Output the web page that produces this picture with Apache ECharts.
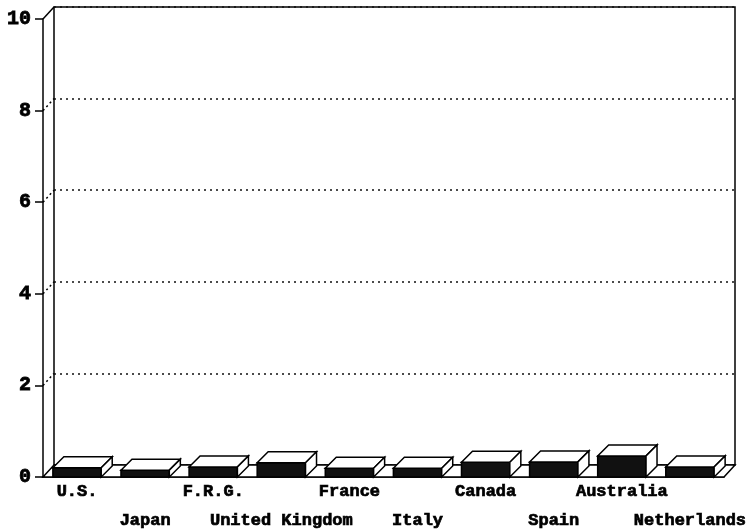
<!DOCTYPE html>
<html>
<head>
<meta charset="utf-8">
<script src="https://cdn.jsdelivr.net/npm/echarts@6/dist/echarts.min.js"></script>
<style>
  html, body { margin: 0; padding: 0; background: #fff; }
  #main { width: 755px; height: 531px; }
</style>
</head>
<body>
<div id="main"></div>
<script>
// 数据
var countries = ['U.S.', 'Japan', 'F.R.G.', 'United Kingdom', 'France', 'Italy', 'Canada', 'Spain', 'Australia', 'Netherlands'];
var values = [0.2, 0.15, 0.22, 0.31, 0.19, 0.19, 0.32, 0.33, 0.46, 0.22];
var wallTicks = [2, 4, 6, 8, 10];

// 3D 深度偏移
var WALL_DX = 11, WALL_DY = -12;
var BAR_DX = 11, BAR_DY = -11;
var FONT = '"Liberation Mono", "DejaVu Sans Mono", monospace';

var myChart = echarts.init(document.getElementById('main'));

myChart.setOption({
    animation: false,
    grid: [
        { left: 43, right: 31, top: 19, bottom: 54, outerBoundsMode: 'none', containLabel: false },
        { left: 54, right: 20, top: 7, bottom: 66, outerBoundsMode: 'none', containLabel: false, show: true, borderColor: '#000', borderWidth: 1.5, backgroundColor: 'transparent' }
    ],
    xAxis: [
        {
            type: 'category', gridIndex: 0, data: countries,
            axisLine: { lineStyle: { color: '#000', width: 1.5 } },
            axisTick: { alignWithLabel: true, length: 8, lineStyle: { color: '#000', width: 1.5 } },
            axisLabel: {
                interval: 0, margin: 0, color: '#000', fontFamily: FONT, fontWeight: 'bold', fontSize: 17, lineHeight: 29,
                textBorderColor: '#000', textBorderWidth: 0.7,
                formatter: function (v, i) { return i % 2 ? '\n' + v : v; }
            }
        },
        { type: 'value', gridIndex: 1, show: false, min: 0, max: 1 }
    ],
    yAxis: [
        {
            type: 'value', gridIndex: 0, min: 0, max: 10, interval: 2,
            axisLine: { show: true, lineStyle: { color: '#000', width: 1.5 } },
            axisTick: { show: true, length: 8, lineStyle: { color: '#000', width: 1.5 } },
            axisLabel: { margin: 12, color: '#000', fontFamily: FONT, fontWeight: 'bold', fontSize: 20, textBorderColor: '#000', textBorderWidth: 0.8 },
            splitLine: { show: false }
        },
        {
            type: 'value', gridIndex: 1, min: 0, max: 10, interval: 2,
            axisLine: { show: false }, axisTick: { show: false }, axisLabel: { show: false },
            splitLine: { show: true, lineStyle: { color: '#111', width: 1.5, type: [2, 4] } }
        }
    ],
    series: [
        {
            // 地板
            type: 'custom', xAxisIndex: 0, yAxisIndex: 0, z: 1,
            data: [[0, 0]],
            renderItem: function (params, api) {
                var cs = params.coordSys;
                var y0 = api.coord([0, 0])[1];
                var xl = cs.x, xr = cs.x + cs.width;
                return {
                    type: 'polygon',
                    shape: { points: [[xl, y0], [xr, y0], [xr + WALL_DX, y0 + WALL_DY], [xl + WALL_DX, y0 + WALL_DY]] },
                    style: { fill: '#fff', stroke: '#000', lineWidth: 1.5 }
                };
            }
        },
        {
            // 墙面连接线
            type: 'custom', xAxisIndex: 0, yAxisIndex: 0, z: 1,
            data: wallTicks.map(function (t) { return [0, t]; }),
            renderItem: function (params, api) {
                var cs = params.coordSys;
                var t = api.value(1);
                var y = api.coord([0, t])[1];
                return {
                    type: 'line',
                    shape: { x1: cs.x, y1: y, x2: cs.x + WALL_DX, y2: y + WALL_DY },
                    style: { stroke: '#000', lineWidth: 1.5, lineDash: t === 10 ? null : [2, 3] }
                };
            }
        },
        {
            // 3D 柱子
            type: 'custom', xAxisIndex: 0, yAxisIndex: 0, z: 3,
            data: values.map(function (v, i) { return [i, v]; }),
            renderItem: function (params, api) {
                var i = api.value(0), v = api.value(1);
                var base = api.coord([i, 0]);
                var top = api.coord([i, v]);
                var w = api.size([1, 0])[0] * 0.71;
                var x0 = base[0] - w / 2, x1 = base[0] + w / 2;
                var y0 = base[1], y1 = top[1];
                var line = { stroke: '#000', lineWidth: 1.5 };
                return {
                    type: 'group',
                    children: [
                        { type: 'rect', shape: { x: x0, y: y1, width: w, height: y0 - y1 }, style: { fill: '#111', stroke: '#000', lineWidth: 1.5 } },
                        { type: 'polygon', shape: { points: [[x0, y1], [x1, y1], [x1 + BAR_DX, y1 + BAR_DY], [x0 + BAR_DX, y1 + BAR_DY]] }, style: Object.assign({ fill: '#fff' }, line) },
                        { type: 'polygon', shape: { points: [[x1, y1], [x1, y0], [x1 + BAR_DX, y0 + BAR_DY], [x1 + BAR_DX, y1 + BAR_DY]] }, style: Object.assign({ fill: '#fff' }, line) }
                    ]
                };
            }
        }
    ]
});
</script>
</body>
</html>
